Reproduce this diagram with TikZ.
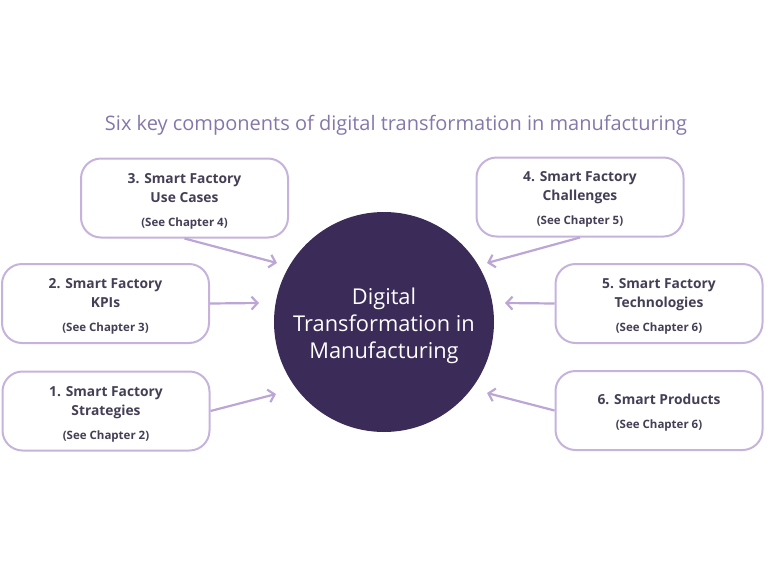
\documentclass[tikz,border=0pt]{standalone}
\usepackage{fontspec}
\setmainfont{Open Sans}
\usetikzlibrary{arrows.meta}
\definecolor{boxline}{HTML}{C6B3DC}
\definecolor{arrowc}{HTML}{BCA6D6}
\definecolor{circ}{HTML}{3B2B58}
\definecolor{titlec}{HTML}{8577AA}
\definecolor{txtc}{HTML}{453F55}
\tikzset{
  comp/.style={draw=boxline, line width=2pt, rounded corners=20pt, fill=white,
    minimum width=207pt, minimum height=79pt, inner sep=0pt},
  comptext/.style={align=center, inner sep=0pt,
    text=txtc, font=\fontsize{13.8}{19}\selectfont\bfseries},
  arr/.style={draw=arrowc, line width=2.2pt, -{Straight Barb[length=6pt,width=13pt,line width=2.2pt]}}
}
\newcommand{\chapt}[1]{\\[5pt]{\fontsize{11.5}{15}\selectfont #1}}
\begin{document}
\begin{tikzpicture}[x=1pt,y=-1pt]
\useasboundingbox (0,0) rectangle (768,576);
\node[text=titlec, font=\fontsize{20}{24}\selectfont] (title) at (396,125) {Six key components of digital transformation in manufacturing};
\node[circle, fill=circ, minimum size=220pt, inner sep=0pt] (c) at (384,322) {};
\node[align=center, text=white, inner sep=0pt,
  font=\fontsize{21.8}{27}\selectfont] (ct) at ([yshift=-4pt]c.center) {Digital\\Transformation in\\Manufacturing};
\node[comp] (b3) at (184.5,198) {};
\node[comp] (b4) at (580,197) {};
\node[comp] (b2) at (105.5,303.5) {};
\node[comp] (b5) at (659,303.5) {};
\node[comp] (b1) at (106,411) {};
\node[comp] (b6) at (659,410.5) {};
\node[comptext] (b3t) at ([yshift=-3.5pt]b3.center) {3. Smart Factory\\Use Cases\chapt{(See Chapter 4)}};
\node[comptext] (b4t) at ([yshift=-2.5pt]b4.center) {4. Smart Factory\\Challenges\chapt{(See Chapter 5)}};
\node[comptext] (b2t) at ([yshift=-3pt]b2.center) {2. Smart Factory\\KPIs\chapt{(See Chapter 3)}};
\node[comptext] (b5t) at ([yshift=-3pt]b5.center) {5. Smart Factory\\Technologies\chapt{(See Chapter 6)}};
\node[comptext] (b1t) at ([yshift=-3pt]b1.center) {1. Smart Factory\\Strategies\chapt{(See Chapter 2)}};
\node[comptext] (b6t) at ([yshift=-2pt]b6.center) {6. Smart Products\chapt{(See Chapter 6)}};
\coordinate (t3) at (277,263);
\coordinate (t2) at (259,303);
\coordinate (t1) at (276,394);
\coordinate (t4) at (487,263);
\coordinate (t5) at (505,303);
\coordinate (t6) at (487,393);
\draw[arr] (b3.south) -- (t3);
\draw[arr] (b2.east) -- (t2);
\draw[arr] (b1.east) -- (t1);
\draw[arr] (b4.south) -- (t4);
\draw[arr] (b5.west) -- (t5);
\draw[arr] (b6.west) -- (t6);
\end{tikzpicture}
\end{document}
